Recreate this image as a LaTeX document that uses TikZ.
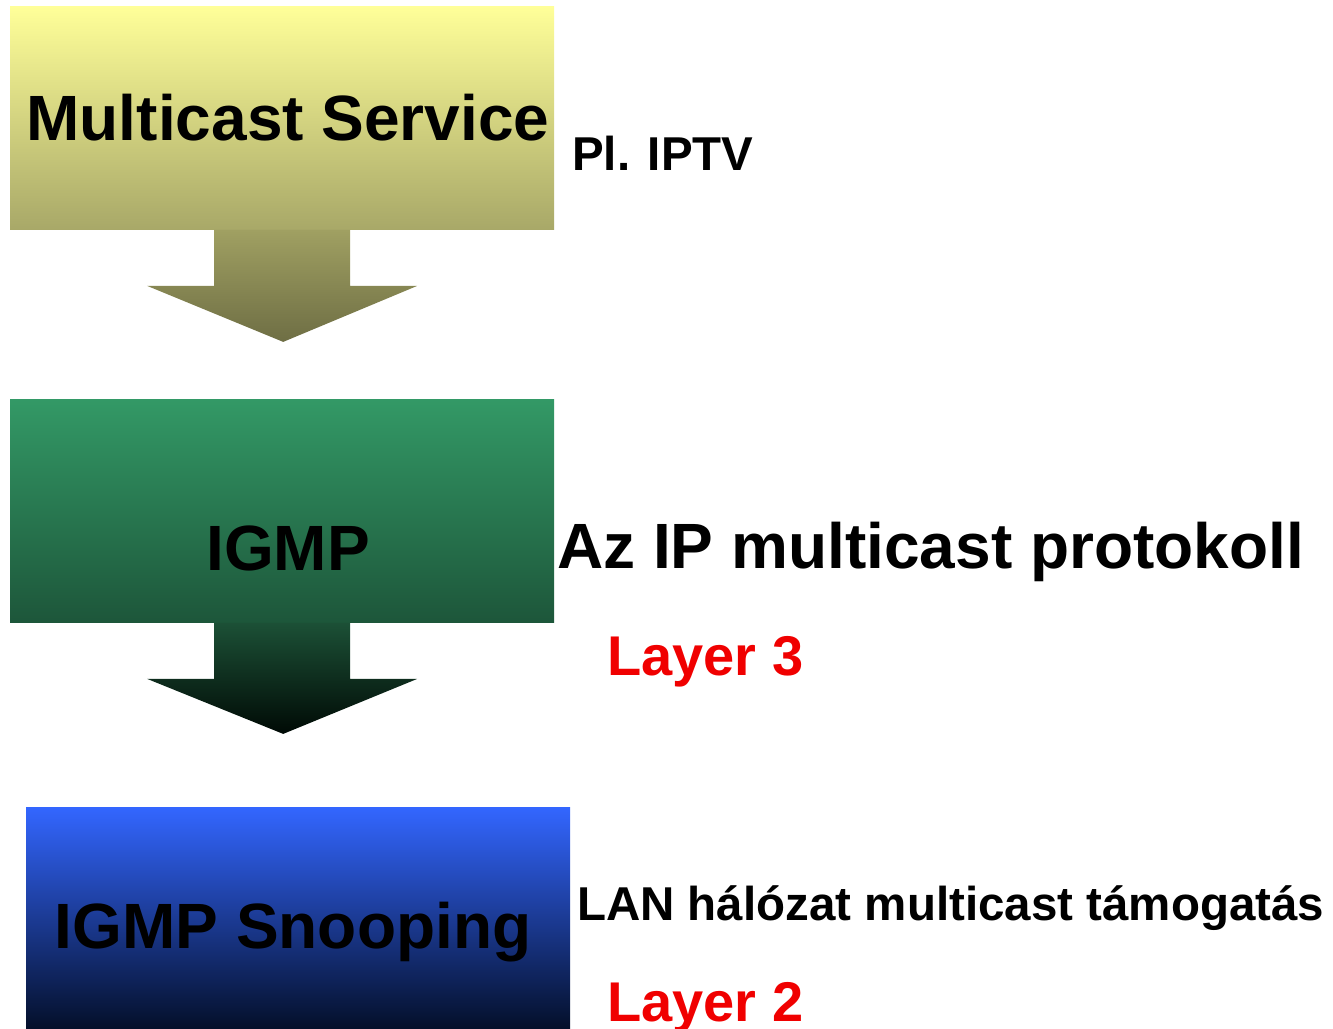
\documentclass[tikz,border=0pt]{standalone}
\usepackage{fontspec}
\setmainfont{Liberation Sans}
\usetikzlibrary{positioning, calc}

\definecolor{svcTop}{HTML}{FFFF99}
\definecolor{svcBot}{HTML}{A8A868}
\definecolor{svcArrTop}{HTML}{A0A062}
\definecolor{svcArrBot}{HTML}{6E6E44}
\definecolor{igmpTop}{HTML}{339966}
\definecolor{igmpBot}{HTML}{1D563A}
\definecolor{igmpArrTop}{HTML}{1C5036}
\definecolor{igmpArrBot}{HTML}{000A05}
\definecolor{snoopTop}{HTML}{3366FF}
\definecolor{snoopBot}{HTML}{000818}
\definecolor{layerRed}{HTML}{F00000}

\begin{document}
\begin{tikzpicture}[x=1pt, y=-1pt,
    stagebox/.style={inner sep=0pt, minimum width=544pt, anchor=north west},
    bigtxt/.style={anchor=base, inner sep=0pt, font=\bfseries\fontsize{64}{70}\selectfont},
    sidetxt/.style={anchor=base west, inner sep=0pt, font=\bfseries\fontsize{64}{70}\selectfont},
    smalltxt/.style={anchor=base west, inner sep=0pt, font=\bfseries\fontsize{47.5}{52}\selectfont},
    layertxt/.style={anchor=base west, inner sep=0pt, text=layerRed, font=\bfseries\fontsize{56}{60}\selectfont}]
    \useasboundingbox (0,0) rectangle (1333,1028);

    % Stages
    \node[stagebox, minimum height=223.5pt, top color=svcTop, bottom color=svcBot] (svc) at (10,6) {};
    \node[stagebox, minimum height=223.5pt, top color=igmpTop, bottom color=igmpBot] (igmp) at (10,399) {};
    \node[stagebox, minimum height=240pt, top color=snoopTop, bottom color=snoopBot] (snoop) at (26,807) {};

    % Block arrows
    \shade[top color=svcArrTop, bottom color=svcArrBot]
        ($(svc.south)+(-68,0)$) -- ++(0,56) -- ++(-67,0) -- ($(svc.south)+(1,112)$)
        -- ($(svc.south)+(135,56)$) -- ++(-67,0) -- ($(svc.south)+(68,0)$) -- cycle;
    \shade[top color=igmpArrTop, bottom color=igmpArrBot]
        ($(igmp.south)+(-68,0)$) -- ++(0,56) -- ++(-67,0) -- ($(igmp.south)+(1,111)$)
        -- ($(igmp.south)+(135,56)$) -- ++(-67,0) -- ($(igmp.south)+(68,0)$) -- cycle;

    % Labels
    \node[bigtxt] (svctxt) at (288,140) {Multicast Service};
    \node[smalltxt] (iptv) at (572,170) {Pl. IPTV};
    \node[bigtxt] (igmptxt) at (288,570) {IGMP};
    \node[sidetxt] (proto) at (557,568) {Az IP multicast protokoll};
    \node[layertxt] (l3) at (607,675) {Layer 3};
    \node[bigtxt] (snooptxt) at (293,948) {IGMP Snooping};
    \node[smalltxt] (lan) at (577,920) {LAN hálózat multicast támogatás};
    \node[layertxt] (l2) at (607,1021) {Layer 2};
\end{tikzpicture}
\end{document}
